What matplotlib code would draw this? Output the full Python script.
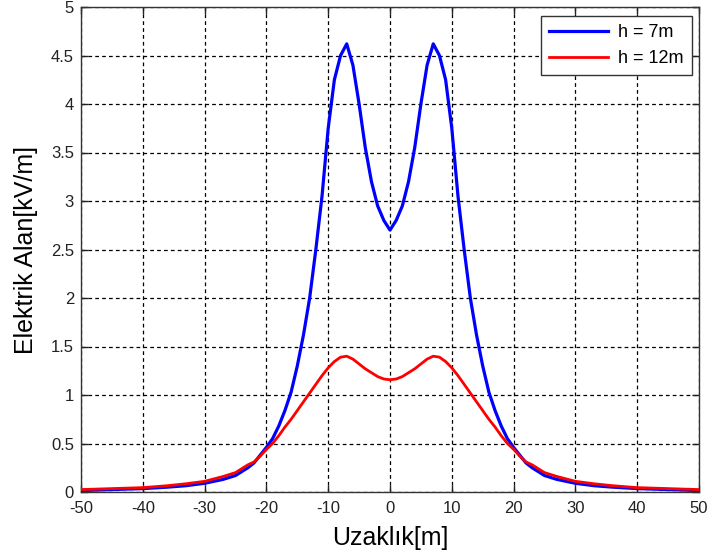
import matplotlib
matplotlib.use("Agg")
import matplotlib.pyplot as plt
import numpy as np

plt.rcParams['font.family'] = ['Liberation Sans', 'DejaVu Sans']
plt.rcParams['axes.unicode_minus'] = False

# distance [m]
x = [-50, -45, -40, -36, -33, -30, -27, -25, -24, -23, -22, -21, -20, -19, -18, -17, -16,
     -15, -14, -13, -12, -11, -10, -9, -8, -7, -6, -5, -4, -3, -2, -1, 0,
     1, 2, 3, 4, 5, 6, 7, 8, 9, 10, 11, 12, 13, 14, 15, 16, 17, 18, 19, 20,
     21, 22, 23, 24, 25, 27, 30, 33, 36, 40, 45, 50]

# electric field [kV/m], h = 7 m
e_h7 = [0.015, 0.025, 0.035, 0.05, 0.065, 0.09, 0.13, 0.17, 0.21, 0.25, 0.30, 0.38, 0.46,
        0.55, 0.68, 0.84, 1.03, 1.30, 1.62, 2.00, 2.50, 3.05, 3.75, 4.25, 4.50, 4.62, 4.40,
        4.00, 3.55, 3.20, 2.95, 2.80, 2.70,
        2.80, 2.95, 3.20, 3.55, 4.00, 4.40, 4.62, 4.50, 4.25, 3.75, 3.05, 2.50, 2.00, 1.62,
        1.30, 1.03, 0.84, 0.68, 0.55, 0.46, 0.38, 0.30, 0.25, 0.21, 0.17, 0.13, 0.09, 0.065,
        0.05, 0.035, 0.025, 0.015]

# electric field [kV/m], h = 12 m
e_h12 = [0.025, 0.035, 0.045, 0.065, 0.085, 0.11, 0.16, 0.20, 0.24, 0.28, 0.31, 0.37, 0.44,
         0.50, 0.58, 0.67, 0.75, 0.84, 0.93, 1.02, 1.11, 1.20, 1.28, 1.345, 1.39, 1.40, 1.37,
         1.32, 1.27, 1.23, 1.19, 1.165, 1.157,
         1.165, 1.19, 1.23, 1.27, 1.32, 1.37, 1.40, 1.39, 1.345, 1.28, 1.20, 1.11, 1.02, 0.93,
         0.84, 0.75, 0.67, 0.58, 0.50, 0.44, 0.37, 0.31, 0.28, 0.24, 0.20, 0.16, 0.11, 0.085,
         0.065, 0.045, 0.035, 0.025]

labels = ['h = 7m', 'h = 12m']
xticks = [-50, -40, -30, -20, -10, 0, 10, 20, 30, 40, 50]
yticks = [0, 0.5, 1, 1.5, 2, 2.5, 3, 3.5, 4, 4.5, 5]
ytick_labels = ['0', '0.5', '1', '1.5', '2', '2.5', '3', '3.5', '4', '4.5', '5']

fig = plt.figure(figsize=(7.11, 5.57), dpi=100)
ax = fig.add_axes([81/711, 65/557, 618/711, 485/557])

ax.plot(x, e_h7, color='#0000ff', lw=2.3, label=labels[0], zorder=3)
ax.plot(x, e_h12, color='#ff0000', lw=2.0, label=labels[1], zorder=3)

ax.set_xlim(-50, 50)
ax.set_ylim(0, 5)
ax.set_xticks(xticks)
ax.set_yticks(yticks)
ax.set_yticklabels(ytick_labels)
ax.tick_params(direction='in', length=5, width=1, top=True, right=True,
               labelsize=12, colors='#222222')
ax.tick_params(axis='x', pad=6.5)
ax.tick_params(axis='y', pad=5)
ax.grid(True, color='black', linestyle=(0, (3, 2.5)), linewidth=0.9)
for s in ax.spines.values():
    s.set_color('#333333')
    s.set_linewidth(1.0)

ax.set_xlabel('Uzaklık[m]', fontsize=18, labelpad=7)
ax.set_ylabel('Elektrik Alan[kV/m]', fontsize=18, labelpad=9)

leg = ax.legend(loc='upper right', bbox_to_anchor=(1 - 7/618, 1 - 9/485),
                borderaxespad=0, fontsize=13, fancybox=False, framealpha=1,
                edgecolor='#333333', handlelength=3.3, handletextpad=0.55,
                borderpad=0.45, labelspacing=0.5)
leg.get_frame().set_linewidth(1.0)

fig.savefig('out.png', dpi=100)
